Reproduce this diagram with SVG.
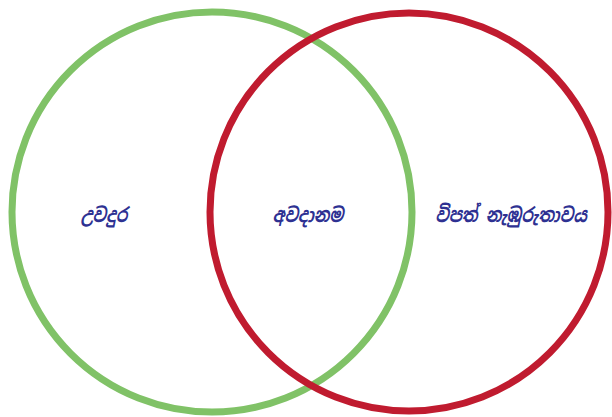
<svg xmlns="http://www.w3.org/2000/svg" width="612" height="417" viewBox="0 0 612 417">
<style>
.c{fill:none;stroke-width:7}
.t{font-family:"Noto Sans Sinhala","Noto Sans","Liberation Sans",sans-serif;font-size:16px;font-style:italic;font-weight:bold;fill:#2e3192;text-anchor:middle}
</style>
<rect width="612" height="417" fill="#ffffff"/>
<g id="hazard">
<circle class="c" cx="212" cy="212" r="200" stroke="#80c267"/>
<text class="t" transform="translate(104,222) scale(1,1.25)">උවදුර</text>
</g>
<g id="vulnerability">
<circle class="c" cx="409" cy="212" r="199" stroke="#c01b2f"/>
<text class="t" transform="translate(511,222) scale(1,1.25)">විපත් නැඹුරුතාවය</text>
</g>
<g id="risk">
<text class="t" transform="translate(308,222) scale(1,1.25)">අවදානම</text>
</g>
<g id="connectors"/>
</svg>
